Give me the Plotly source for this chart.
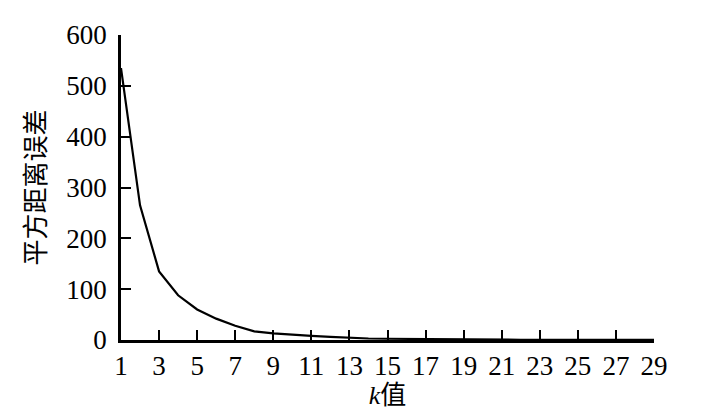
import plotly.graph_objects as go

k_values = list(range(1, 30))
sse = [535, 265, 135, 88, 60, 42, 28, 17, 13, 10, 8, 6, 4, 3, 2.5, 2, 1.5, 1.2, 1.0,
       0.8, 0.6, 0.5, 0.4, 0.3, 0.25, 0.2, 0.15, 0.1, 0.05]
x_ticks = list(range(1, 30, 2))
y_ticks = [0, 100, 200, 300, 400, 500, 600]

font_family = "Liberation Serif, Times New Roman, Noto Sans CJK SC, serif"

fig = go.Figure(go.Scatter(x=k_values, y=sse, mode="lines",
                           line=dict(color="black", width=2.2), showlegend=False))

fig.update_layout(
    width=696, height=407,
    margin=dict(l=113, r=50, t=24, b=75),
    paper_bgcolor="white", plot_bgcolor="white",
    font=dict(family=font_family, size=27, color="black"),
)
fig.update_xaxes(
    range=[1, 29], tickvals=x_ticks, ticktext=[str(v) for v in x_ticks],
    showline=True, linecolor="black", linewidth=2.5,
    ticks="inside", ticklen=10, tickwidth=2, tickcolor="black",
    showgrid=False, zeroline=False,
    tickfont=dict(size=27, family=font_family),
    title=dict(text="<i>k</i>值", font=dict(size=26, family=font_family), standoff=2),
)
fig.update_yaxes(
    range=[0, 600], tickvals=y_ticks,
    showline=True, linecolor="black", linewidth=2.5,
    ticks="inside", ticklen=10, tickwidth=2, tickcolor="black",
    showgrid=False, zeroline=False, ticklabelstandoff=6,
    tickfont=dict(size=27, family=font_family),
    title=dict(text="平方距离误差", font=dict(size=26, family=font_family), standoff=14),
)

fig.write_html("out.html")
